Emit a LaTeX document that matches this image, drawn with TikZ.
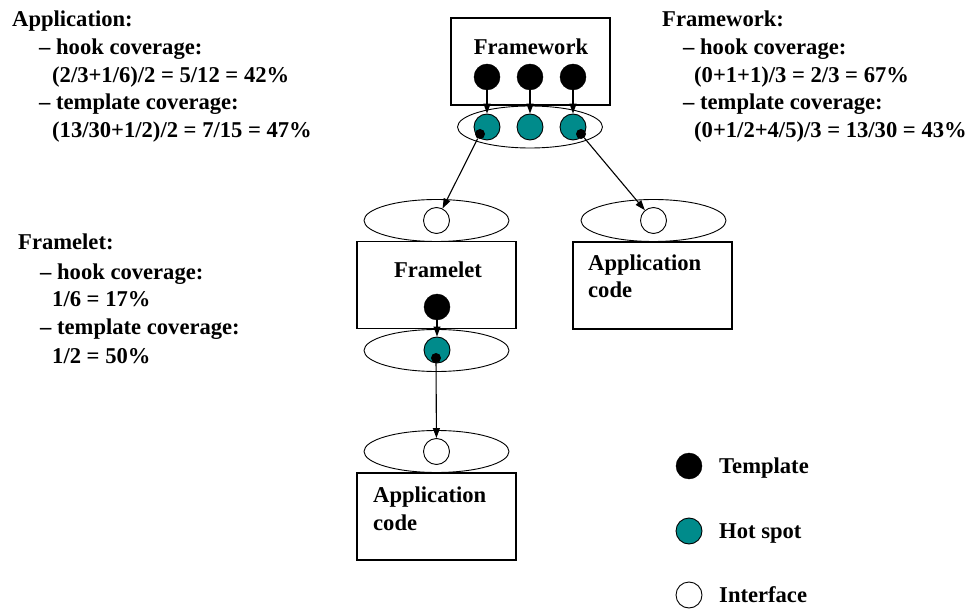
\documentclass[tikz,border=0pt]{standalone}
\usepackage{fontspec}
\setmainfont{Liberation Serif}
\usetikzlibrary{arrows.meta,shapes.geometric}
\definecolor{hotspot}{RGB}{0,139,139}
\begin{document}
\begin{tikzpicture}[x=1pt,y=-1pt,
  lbl/.style={anchor=base west,inner sep=0pt,font=\fontsize{22.6}{28}\selectfont\bfseries},
  ctr/.style={anchor=base,inner sep=0pt,font=\fontsize{22.6}{28}\selectfont\bfseries},
  unit/.style={draw,line width=1.2pt,minimum width=159pt,minimum height=87pt,inner sep=0pt},
  iface/.style={draw,ellipse,line width=0.9pt,fill=white,minimum width=145pt,minimum height=42pt,inner sep=0pt},
  templ/.style={circle,fill=black,draw=black,minimum size=26pt,inner sep=0pt},
  hot/.style={circle,fill=hotspot,draw=black,line width=0.9pt,minimum size=26pt,inner sep=0pt},
  open/.style={circle,fill=white,draw=black,line width=0.9pt,minimum size=26pt,inner sep=0pt},
  pin/.style={circle,fill=black,minimum size=10pt,inner sep=0pt},
  arr/.style={line width=1.1pt,-{Triangle[length=10pt,width=7pt]}}
]
\useasboundingbox (0,0) rectangle (974,609);

% ---- coverage figures ----
\node[lbl] (appH)  at (12,27)  {Application:};
\node[lbl] (appL1) at (39,55)  {– hook coverage:};
\node[lbl] (appL2) at (52,83)  {(2/3+1/6)/2 = 5/12 = 42\%};
\node[lbl] (appL3) at (39,110) {– template coverage:};
\node[lbl] (appL4) at (52,138) {(13/30+1/2)/2 = 7/15 = 47\%};

\node[lbl] (fwH)  at (662,27)  {Framework:};
\node[lbl] (fwL1) at (683,55)  {– hook coverage:};
\node[lbl] (fwL2) at (694,83)  {(0+1+1)/3 = 2/3 = 67\%};
\node[lbl] (fwL3) at (683,110) {– template coverage:};
\node[lbl] (fwL4) at (694,138) {(0+1/2+4/5)/3 = 13/30 = 43\%};

\node[lbl] (flH)  at (18,250)  {Framelet:};
\node[lbl] (flL1) at (40,280)  {– hook coverage:};
\node[lbl] (flL2) at (52,307)  {1/6 = 17\%};
\node[lbl] (flL3) at (40,335)  {– template coverage:};
\node[lbl] (flL4) at (52,363)  {1/2 = 50\%};

% ---- framework ----
\node[unit] (fw) at (530.5,61.5) {};
\node[ctr] (fwT) at (531,55) {Framework};
\node[templ] (t1) at (487,77) {};
\node[templ] (t2) at (530,77) {};
\node[templ] (t3) at (573,77) {};
\node[iface] (fwI) at (530,127) {};
\node[hot] (h1) at (487,127) {};
\node[hot] (h2) at (530,127) {};
\node[hot] (h3) at (573,127) {};
\node[pin] (p1) at (480,134) {};
\node[pin] (p3) at (581,134) {};
\draw[arr] (t1) -- (h1);
\draw[arr] (t2) -- (h2);
\draw[arr] (t3) -- (h3);

% ---- framelet ----
\node[iface] (flI) at (436.5,220.5) {};
\node[open] (o1) at (436.5,220.5) {};
\node[unit] (fl) at (436.5,285) {};
\node[ctr] (flT) at (438,278) {Framelet};
\node[templ] (t4) at (437,307) {};
\node[iface] (flO) at (436.5,350.5) {};
\node[hot] (h4) at (437,350) {};
\node[pin] (p4) at (436,358) {};
\draw[arr] (t4) -- (h4);

% ---- application code (right) ----
\node[iface] (apI) at (653.5,220.5) {};
\node[open] (o2) at (653.5,220.5) {};
\node[unit] (ap) at (652.5,285.5) {};
\node[lbl] (apT1) at (588,271) {Application};
\node[lbl] (apT2) at (588,298) {code};

% ---- application code (below) ----
\node[iface] (aqI) at (436.5,451.5) {};
\node[open] (o3) at (436.5,451.5) {};
\node[unit] (aq) at (436.5,516.5) {};
\node[lbl] (aqT1) at (373,502) {Application};
\node[lbl] (aqT2) at (373,530) {code};

% ---- calls into the interfaces ----
\draw[arr] (p1) -- (o1);
\draw[arr] (p3) -- (o2);
\draw[arr] (p4) -- (o3);

% ---- legend ----
\node[templ] (kT) at (689,466) {};
\node[lbl] (kTl) at (719,473) {Template};
\node[hot] (kH) at (689,531) {};
\node[lbl] (kHl) at (719,538) {Hot spot};
\node[open] (kI) at (689,595) {};
\node[lbl] (kIl) at (719,602) {Interface};
\end{tikzpicture}
\end{document}
